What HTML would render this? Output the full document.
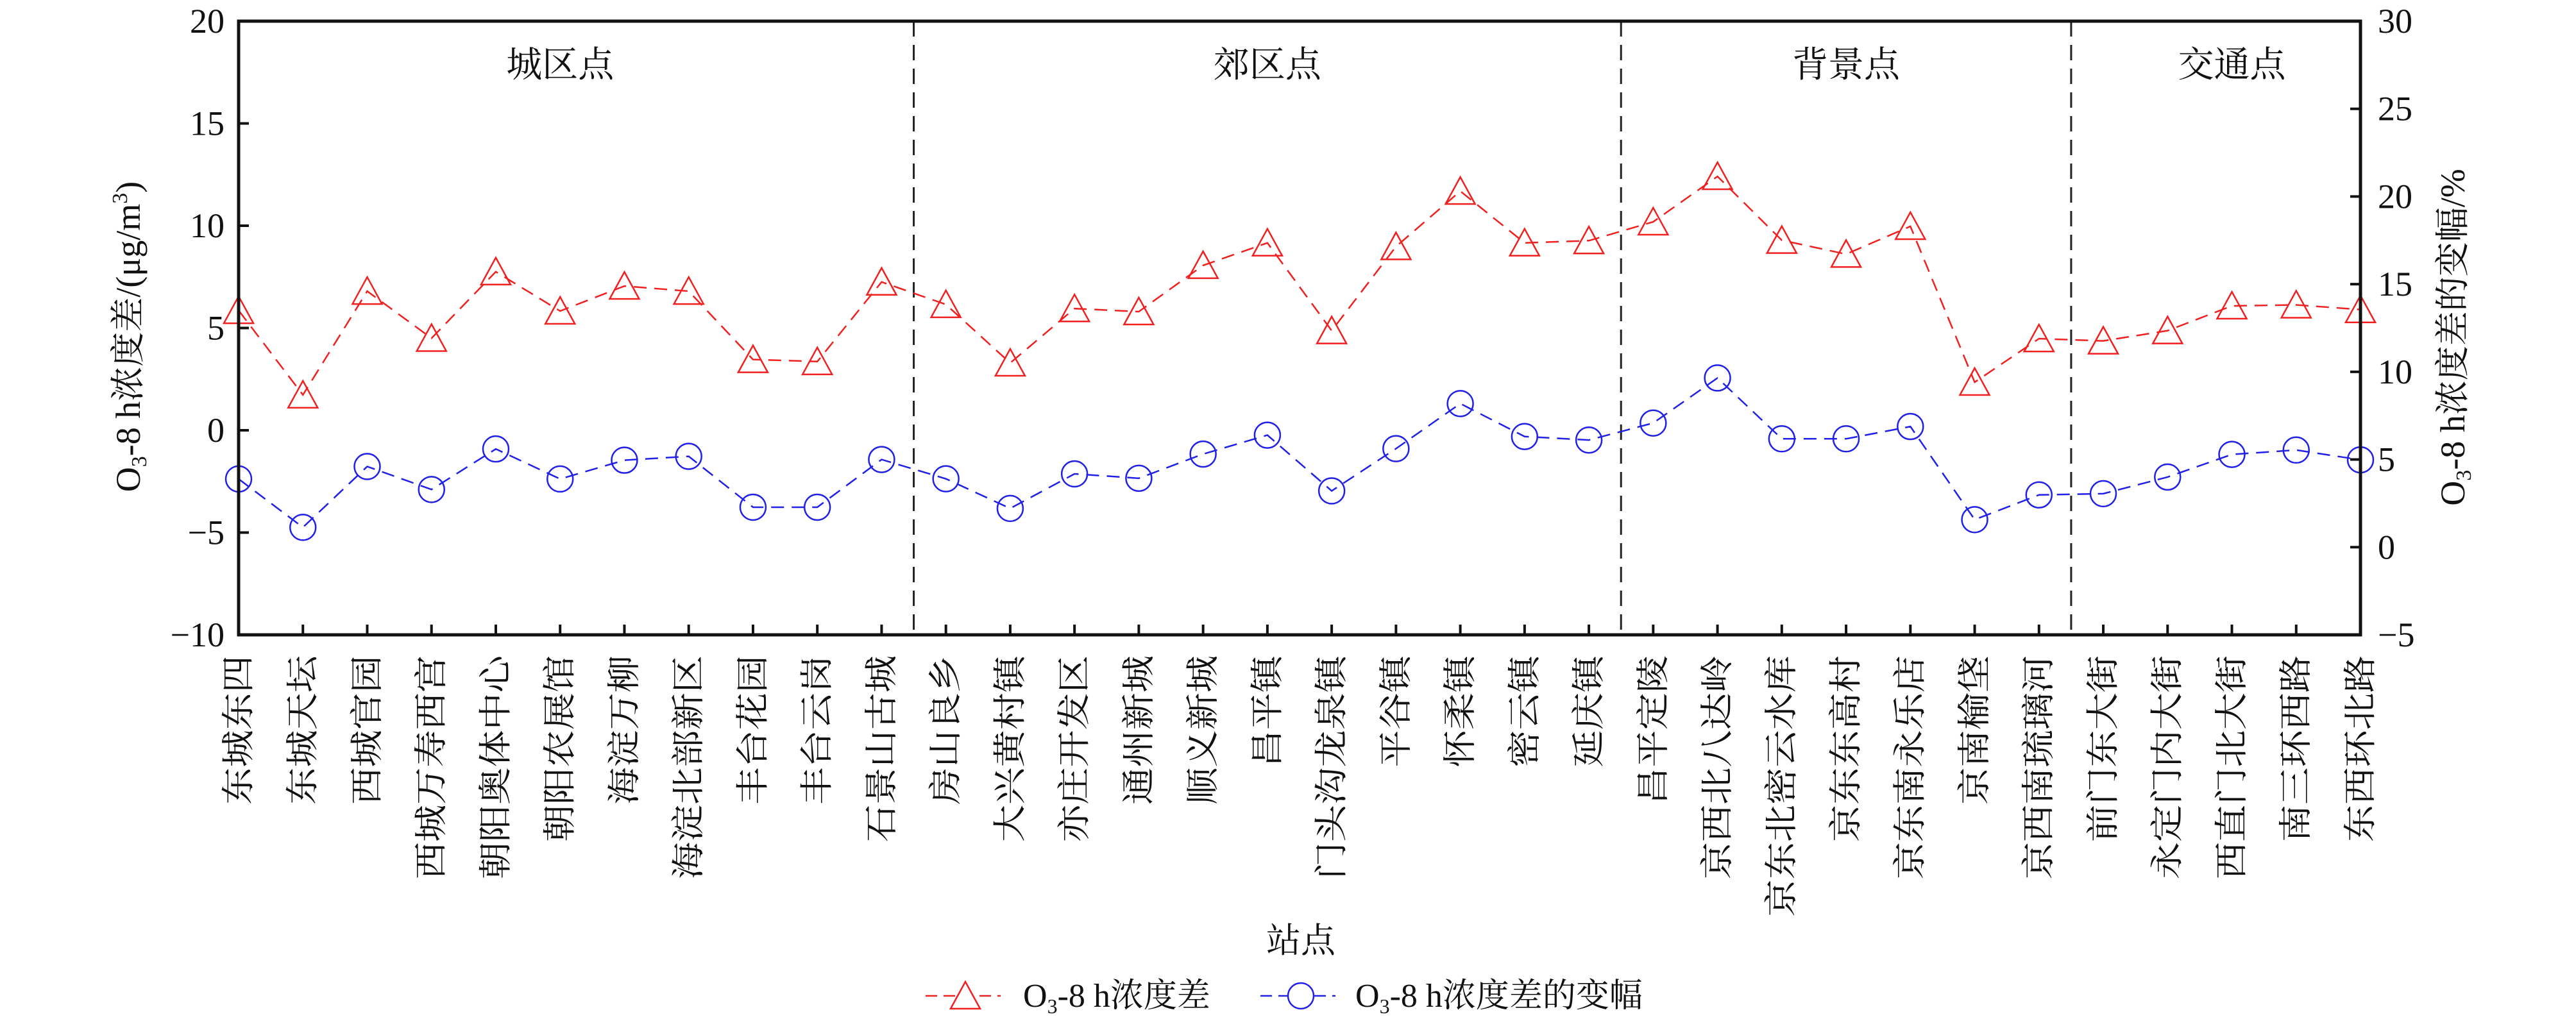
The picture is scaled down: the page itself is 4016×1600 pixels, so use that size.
<!DOCTYPE html>
<html><head><meta charset="utf-8"><style>
body{margin:0;background:#fff}
svg{display:block;font-family:"Liberation Serif","Noto Serif CJK SC",serif}
</style></head><body>
<svg id="chart" width="4016" height="1600" viewBox="0 0 4016 1600" xmlns="http://www.w3.org/2000/svg">
<rect width="4016" height="1600" fill="#fff"/>
<g id="grid"></g>
<g id="series"></g>
<g id="axes"></g>
</svg>
<script>
const stations=["东城东四","东城天坛","西城官园","西城万寿西宫","朝阳奥体中心","朝阳农展馆","海淀万柳","海淀北部新区","丰台花园","丰台云岗","石景山古城","房山良乡","大兴黄村镇","亦庄开发区","通州新城","顺义新城","昌平镇","门头沟龙泉镇","平谷镇","怀柔镇","密云镇","延庆镇","昌平定陵","京西北八达岭","京东北密云水库","京东东高村","京东南永乐店","京南榆垡","京西南琉璃河","前门东大街","永定门内大街","西直门北大街","南三环西路","东西环北路"];
const diffValues=[5.86,1.73,6.8,4.5,7.75,5.83,7.05,6.8,3.46,3.36,7.25,6.15,3.29,5.95,5.8,8.06,9.16,4.87,8.98,11.69,9.16,9.27,10.19,12.41,9.29,8.61,9.97,2.35,4.48,4.37,4.87,6.08,6.13,5.9];
const rangeValues=[3.89,1.13,4.6,3.29,5.6,3.89,4.96,5.18,2.28,2.28,5.0,3.9,2.21,4.18,3.93,5.31,6.39,3.21,5.62,8.19,6.31,6.11,7.08,9.65,6.18,6.18,6.88,1.57,2.98,3.05,4.0,5.29,5.54,4.98];
const leftTicks=[-10,-5,0,5,10,15,20];
const rightTicks=[-5,0,5,10,15,20,25,30];
const groups=[["城区点",0,10],["郊区点",11,21],["背景点",22,28],["交通点",29,33]];

const NS="http://www.w3.org/2000/svg";
const L=372,R=3680,T=33,B=990;
const xS=i=>L+i*(R-L)/(stations.length-1);
const yL=v=>T+(20-v)*(B-T)/30;
const yR=v=>T+(30-v)*(B-T)/35;
function mk(tag,attrs,parent,text){const e=document.createElementNS(NS,tag);for(const k in attrs)e.setAttribute(k,attrs[k]);if(text!==undefined)e.textContent=text;parent.appendChild(e);return e;}
const axes=document.getElementById('axes'),series=document.getElementById('series'),grid=document.getElementById('grid');

// dividers and group labels
for(let g=0;g<groups.length;g++){
  const [name,a,b]=groups[g];
  const t=mk('text',{x:(xS(a)+xS(b))/2,y:102,'font-size':56,'text-anchor':'middle','dominant-baseline':'central',fill:'#111'},grid,name);
  
  
  if(g>0){
    const d=mk('line',{x1:(xS(a-1)+xS(a))/2,x2:(xS(a-1)+xS(a))/2,y1:T,y2:B,stroke:'#222','stroke-width':3,'stroke-dasharray':'24 13'},grid);
    
    
  }
}

// series
function line(vals,yf,color,name){
  const p=mk('polyline',{points:vals.map((v,i)=>xS(i)+','+yf(v)).join(' '),fill:'none',stroke:color,'stroke-width':2.5,'stroke-dasharray':'20 12'},series);
  
  
}
line(diffValues,yL,'#f02020','diff-line');
line(rangeValues,yR,'#2020e8','range-line');
diffValues.forEach((v,i)=>{const x=xS(i),y=yL(v);
  const m=mk('polygon',{points:`${x-23},${y+20} ${x+23},${y+20} ${x},${y-22}`,fill:'none',stroke:'#f02020','stroke-width':2.5},series);
  
  });
rangeValues.forEach((v,i)=>{
  const m=mk('circle',{cx:xS(i),cy:yR(v),r:20,fill:'none',stroke:'#2020e8','stroke-width':2.5},series);
  
  });

// frame
const fr=mk('rect',{x:L,y:T,width:R-L,height:B-T,fill:'none',stroke:'#111','stroke-width':5},axes);


leftTicks.forEach(v=>{const y=yL(v);
  mk('line',{x1:L,x2:L+16,y1:y,y2:y,stroke:'#111','stroke-width':4},axes);
  const t=mk('text',{x:350,y:y,'font-size':54,'text-anchor':'end','dominant-baseline':'central',fill:'#111'},axes,v<0?'−'+(-v):String(v));
  
  });
rightTicks.forEach(v=>{const y=yR(v);
  mk('line',{x1:R-16,x2:R,y1:y,y2:y,stroke:'#111','stroke-width':4},axes);
  const t=mk('text',{x:3707,y:y,'font-size':54,'text-anchor':'start','dominant-baseline':'central',fill:'#111'},axes,v<0?'−'+(-v):String(v));
  
  });
stations.forEach((s,i)=>{const x=xS(i);
  mk('line',{x1:x,x2:x,y1:B-16,y2:B,stroke:'#111','stroke-width':4},axes);
  const t=mk('text',{x:0,y:0,'font-size':52,'text-anchor':'end','dominant-baseline':'central',fill:'#111',transform:`translate(${x},1022) rotate(-90) scale(1.12,1)`},axes,s);
  
  });
</script>
<svg style="position:absolute;left:0;top:0" width="4016" height="1600" viewBox="0 0 4016 1600" xmlns="http://www.w3.org/2000/svg" font-family="Liberation Serif, Noto Serif CJK SC, serif">
<text transform="translate(218,525) rotate(-90)" font-size="54" text-anchor="middle" fill="#111">O<tspan font-size="34" dy="10">3</tspan><tspan dy="-10">-8 h浓度差/(μg/m</tspan><tspan font-size="34" dy="-20">3</tspan><tspan dy="20">)</tspan></text>
<text transform="translate(3842,526) rotate(-90)" font-size="54" text-anchor="middle" fill="#111">O<tspan font-size="34" dy="10">3</tspan><tspan dy="-10">-8 h浓度差的变幅/%</tspan></text>
<text x="2028" y="1467" font-size="54" text-anchor="middle" dominant-baseline="central" fill="#111">站点</text>
<g>
<g>
<line x1="1443" x2="1560" y1="1553" y2="1553" stroke="#f02020" stroke-width="2.5" stroke-dasharray="18 10"/>
<polygon points="1482,1573 1528,1573 1505,1531" fill="#fff" stroke="#f02020" stroke-width="2.5"/>
<text x="1595" y="1570" font-size="52" fill="#111">O<tspan font-size="32" dy="10">3</tspan><tspan dy="-10">-8 h浓度差</tspan></text>
</g>
<g>
<line x1="1965" x2="2082" y1="1553" y2="1553" stroke="#2020e8" stroke-width="2.5" stroke-dasharray="18 10"/>
<circle cx="2028" cy="1553" r="20" fill="#fff" stroke="#2020e8" stroke-width="2.5"/>
<text x="2113" y="1570" font-size="52" fill="#111">O<tspan font-size="32" dy="10">3</tspan><tspan dy="-10">-8 h浓度差的变幅</tspan></text>
</g>
</g>
</svg>
</body></html>
